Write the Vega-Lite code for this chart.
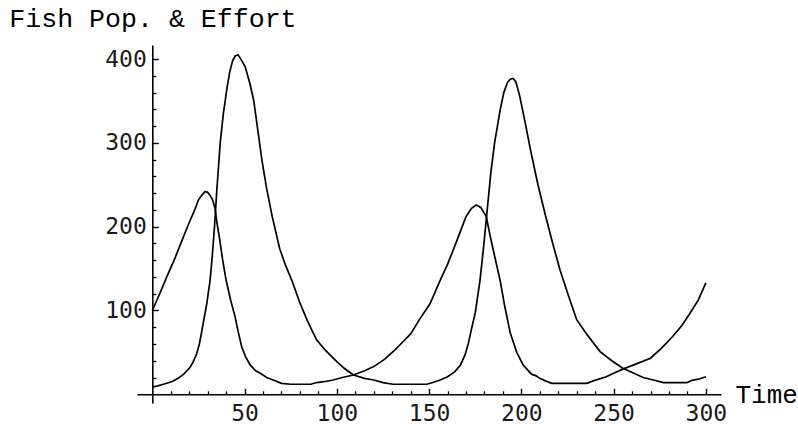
{
  "$schema": "https://vega.github.io/schema/vega-lite/v6.json",
  "width": 584,
  "height": 358,
  "autosize": "none",
  "padding": {"left": 137, "top": 45, "right": 77, "bottom": 28},
  "background": "white",
  "config": {
    "view": {"stroke": null},
    "axis": {"grid": false, "domainColor": "black", "tickColor": "black", "labelColor": "#1a1a1a", "titleColor": "black", "labelFlush": false, "labelOverlap": false}
  },
  "datasets": {
    "fish": [
      {"t": 0, "v": 100}, {"t": 4, "v": 120}, {"t": 8, "v": 141}, {"t": 12, "v": 161}, {"t": 16, "v": 183},
      {"t": 20, "v": 205}, {"t": 23, "v": 220}, {"t": 25, "v": 232}, {"t": 27, "v": 238}, {"t": 28.6, "v": 242},
      {"t": 30, "v": 241}, {"t": 31, "v": 238}, {"t": 32.5, "v": 233}, {"t": 34, "v": 222}, {"t": 35, "v": 205},
      {"t": 36.5, "v": 185}, {"t": 38, "v": 162}, {"t": 40, "v": 136}, {"t": 42.5, "v": 112}, {"t": 44.8, "v": 93},
      {"t": 46.5, "v": 75}, {"t": 48.5, "v": 56}, {"t": 50.5, "v": 45}, {"t": 53, "v": 35}, {"t": 56, "v": 28},
      {"t": 58.5, "v": 25}, {"t": 62, "v": 20}, {"t": 65.5, "v": 17}, {"t": 70, "v": 13}, {"t": 75, "v": 12},
      {"t": 80, "v": 12}, {"t": 86, "v": 12}, {"t": 89, "v": 14}, {"t": 93, "v": 15}, {"t": 98, "v": 17},
      {"t": 103, "v": 20}, {"t": 109, "v": 23}, {"t": 115, "v": 28}, {"t": 120, "v": 33}, {"t": 126, "v": 42},
      {"t": 131.5, "v": 53}, {"t": 136, "v": 63}, {"t": 140, "v": 72}, {"t": 145, "v": 90}, {"t": 150.5, "v": 108},
      {"t": 156, "v": 136}, {"t": 160, "v": 155}, {"t": 165, "v": 183}, {"t": 170, "v": 212}, {"t": 173, "v": 222},
      {"t": 175.5, "v": 226}, {"t": 178, "v": 223}, {"t": 181, "v": 212}, {"t": 183, "v": 190}, {"t": 185.5, "v": 165},
      {"t": 188.5, "v": 136}, {"t": 191, "v": 105}, {"t": 194, "v": 73}, {"t": 197.5, "v": 50}, {"t": 201, "v": 35},
      {"t": 205.5, "v": 24}, {"t": 208, "v": 22}, {"t": 210, "v": 19}, {"t": 213, "v": 16}, {"t": 216.5, "v": 13},
      {"t": 225, "v": 13}, {"t": 235.5, "v": 13}, {"t": 239, "v": 16}, {"t": 246, "v": 21}, {"t": 250, "v": 25},
      {"t": 255, "v": 30}, {"t": 262, "v": 36}, {"t": 270, "v": 43}, {"t": 276, "v": 55}, {"t": 282, "v": 69},
      {"t": 287, "v": 82}, {"t": 291.5, "v": 97}, {"t": 296, "v": 113}, {"t": 300, "v": 133}
    ],
    "effort": [
      {"t": 0, "v": 8.5}, {"t": 3, "v": 10}, {"t": 6, "v": 12}, {"t": 10.5, "v": 15}, {"t": 14, "v": 19},
      {"t": 17, "v": 24}, {"t": 20.4, "v": 32}, {"t": 22, "v": 38}, {"t": 24, "v": 48}, {"t": 25.5, "v": 60},
      {"t": 26.8, "v": 75}, {"t": 28, "v": 90}, {"t": 29.5, "v": 108}, {"t": 31.3, "v": 136}, {"t": 32.5, "v": 165},
      {"t": 33.7, "v": 200}, {"t": 35, "v": 245}, {"t": 36.8, "v": 300}, {"t": 38.5, "v": 335}, {"t": 40.5, "v": 366},
      {"t": 42, "v": 385}, {"t": 43.5, "v": 398}, {"t": 45, "v": 404}, {"t": 46.5, "v": 405}, {"t": 48, "v": 400},
      {"t": 50.3, "v": 391}, {"t": 53, "v": 370}, {"t": 55, "v": 350}, {"t": 57, "v": 318}, {"t": 59.5, "v": 278},
      {"t": 62, "v": 245}, {"t": 65, "v": 212}, {"t": 69, "v": 174}, {"t": 72, "v": 155}, {"t": 75.6, "v": 136},
      {"t": 80, "v": 109}, {"t": 84, "v": 88}, {"t": 89, "v": 65}, {"t": 94, "v": 52}, {"t": 100, "v": 39},
      {"t": 104, "v": 31}, {"t": 109, "v": 23}, {"t": 115, "v": 19}, {"t": 120, "v": 17}, {"t": 125, "v": 14},
      {"t": 130.5, "v": 12}, {"t": 140, "v": 12}, {"t": 148.7, "v": 12}, {"t": 152, "v": 14}, {"t": 156, "v": 17},
      {"t": 160, "v": 21}, {"t": 164, "v": 27}, {"t": 167, "v": 35}, {"t": 169.5, "v": 47}, {"t": 171.3, "v": 61},
      {"t": 173, "v": 78}, {"t": 175, "v": 97}, {"t": 177.6, "v": 136}, {"t": 179.5, "v": 175}, {"t": 181.5, "v": 220},
      {"t": 183.5, "v": 265}, {"t": 185.5, "v": 300}, {"t": 188.5, "v": 339}, {"t": 190.5, "v": 360}, {"t": 192.5, "v": 372},
      {"t": 194, "v": 376}, {"t": 195.5, "v": 377}, {"t": 197, "v": 373}, {"t": 199, "v": 357}, {"t": 202, "v": 325},
      {"t": 205, "v": 291}, {"t": 209, "v": 250}, {"t": 213, "v": 214}, {"t": 217, "v": 180}, {"t": 221, "v": 148},
      {"t": 225.5, "v": 118}, {"t": 230, "v": 89}, {"t": 236, "v": 70}, {"t": 242.7, "v": 51}, {"t": 249, "v": 40},
      {"t": 255, "v": 31}, {"t": 261, "v": 25}, {"t": 266, "v": 20}, {"t": 271.6, "v": 17}, {"t": 277, "v": 14},
      {"t": 285, "v": 14}, {"t": 289.7, "v": 14}, {"t": 293, "v": 17}, {"t": 296, "v": 18}, {"t": 300, "v": 21}
    ]
  },
  "layer": [
    {
      "data": {"name": "fish"},
      "mark": {"type": "line", "color": "black", "strokeWidth": 1.7, "interpolate": "linear"},
      "encoding": {
        "x": {
          "field": "t", "type": "quantitative",
          "scale": {"domain": [-8.3, 308.2], "nice": false, "zero": false},
          "axis": {
            "orient": "bottom", "offset": -8.7, "values": [50, 100, 150, 200, 250, 300],
            "tickSize": -6, "tickWidth": 1.4, "domainWidth": 1.6,
            "labelFont": "DejaVu Sans Mono", "labelFontSize": 23, "labelPadding": 14, "labelBaseline": "top",
            "title": "Time", "titleFont": "Liberation Mono", "titleFontSize": 26, "titleFontWeight": "normal",
            "titleAnchor": null, "titleAlign": "left", "titleBaseline": "alphabetic", "titleAngle": 0,
            "titleX": 598, "titleY": 8.5
          }
        },
        "y": {
          "field": "v", "type": "quantitative",
          "scale": {"domain": [-10.4, 416.8], "nice": false, "zero": false},
          "axis": {
            "orient": "left", "offset": -15.3, "values": [100, 200, 300, 400],
            "tickSize": -6, "tickWidth": 1.4, "domainWidth": 1.6,
            "labelFont": "DejaVu Sans Mono", "labelFontSize": 23, "labelPadding": 12,
            "title": "Fish Pop. & Effort", "titleFont": "Liberation Mono", "titleFontSize": 26.6, "titleFontWeight": "normal",
            "titleAnchor": null, "titleAlign": "left", "titleBaseline": "alphabetic", "titleAngle": 0,
            "titleX": -143.5, "titleY": -19
          }
        }
      }
    },
    {
      "data": {"name": "effort"},
      "mark": {"type": "line", "color": "black", "strokeWidth": 1.7, "interpolate": "linear"},
      "encoding": {
        "x": {
          "field": "t", "type": "quantitative",
          "scale": {"domain": [-8.3, 308.2], "nice": false, "zero": false},
          "axis": {
            "orient": "bottom", "offset": -8.7,
            "values": [10, 20, 30, 40, 60, 70, 80, 90, 110, 120, 130, 140, 160, 170, 180, 190, 210, 220, 230, 240, 260, 270, 280, 290],
            "tickSize": -3.5, "tickWidth": 1.3, "domain": false, "labels": false, "title": null
          }
        },
        "y": {
          "field": "v", "type": "quantitative",
          "scale": {"domain": [-10.4, 416.8], "nice": false, "zero": false},
          "axis": {
            "orient": "left", "offset": -15.3,
            "values": [20, 40, 60, 80, 120, 140, 160, 180, 220, 240, 260, 280, 320, 340, 360, 380],
            "tickSize": -3.5, "tickWidth": 1.3, "domain": false, "labels": false, "title": null
          }
        }
      }
    }
  ],
  "resolve": {"axis": {"x": "independent", "y": "independent"}}
}
